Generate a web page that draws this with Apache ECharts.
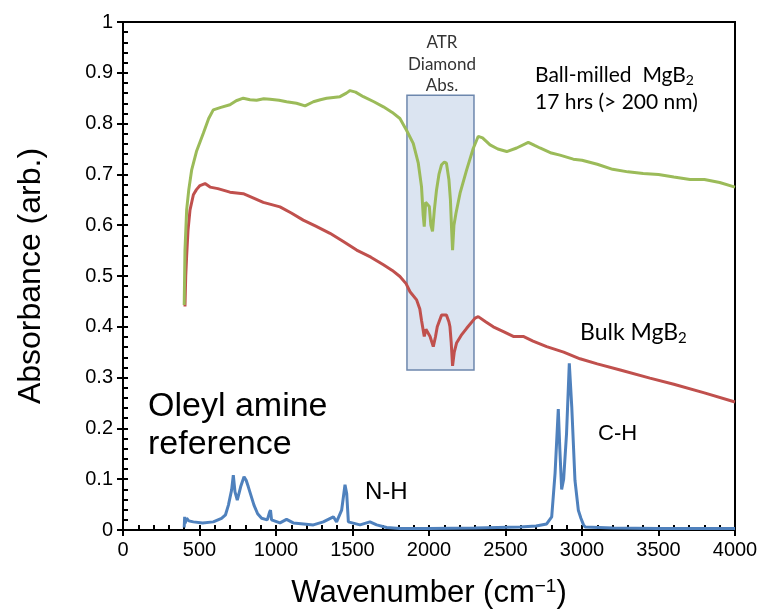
<!DOCTYPE html>
<html>
<head>
<meta charset="utf-8">
<script src="https://cdn.jsdelivr.net/npm/echarts@6/dist/echarts.min.js"></script>
<style>
  html, body { margin: 0; padding: 0; background: #fff; }
  #chart { width: 759px; height: 610px; }
</style>
</head>
<body>
<div id="chart"></div>
<script>
// ball-milled MgB2, 17 hrs
const milledWn = [400, 405, 416, 430, 449, 480, 525, 560, 590, 640, 699, 740, 786, 830, 873, 920, 961, 1020, 1069, 1134, 1190, 1244, 1290, 1331, 1418, 1460, 1484, 1520, 1571, 1640, 1702, 1760, 1810, 1853, 1897, 1930, 1951, 1962, 1969, 1978, 1990, 2002, 2012, 2023, 2035, 2049, 2065, 2082, 2100, 2114, 2130, 2140, 2148, 2154, 2163, 2176, 2203, 2246, 2289, 2322, 2350, 2399, 2450, 2508, 2573, 2649, 2690, 2725, 2800, 2856, 2943, 3000, 3100, 3200, 3300, 3400, 3500, 3600, 3706, 3800, 3900, 4000];
const milledAbs = [0.443, 0.55, 0.63, 0.67, 0.709, 0.745, 0.781, 0.81, 0.827, 0.832, 0.837, 0.845, 0.85, 0.847, 0.846, 0.849, 0.848, 0.846, 0.843, 0.84, 0.835, 0.843, 0.847, 0.85, 0.853, 0.86, 0.865, 0.862, 0.853, 0.843, 0.833, 0.822, 0.81, 0.787, 0.761, 0.722, 0.676, 0.62, 0.597, 0.645, 0.643, 0.637, 0.6, 0.588, 0.63, 0.669, 0.7, 0.719, 0.724, 0.722, 0.69, 0.65, 0.59, 0.551, 0.6, 0.623, 0.663, 0.709, 0.751, 0.775, 0.772, 0.758, 0.75, 0.745, 0.752, 0.763, 0.757, 0.752, 0.742, 0.738, 0.73, 0.728, 0.72, 0.71, 0.705, 0.702, 0.7, 0.695, 0.69, 0.69, 0.684, 0.675];

// bulk MgB2
const bulkWn = [405, 410, 416, 425, 438, 460, 480, 503, 536, 569, 620, 699, 786, 850, 917, 1026, 1100, 1178, 1260, 1353, 1440, 1527, 1620, 1702, 1760, 1810, 1850, 1876, 1919, 1940, 1951, 1969, 1980, 1989, 2007, 2028, 2042, 2054, 2082, 2114, 2130, 2137, 2145, 2154, 2165, 2180, 2210, 2246, 2301, 2322, 2370, 2420, 2490, 2551, 2616, 2680, 2769, 2880, 2987, 3100, 3250, 3444, 3600, 3800, 4000];
const bulkAbs = [0.44, 0.5, 0.54, 0.59, 0.63, 0.66, 0.67, 0.678, 0.682, 0.675, 0.672, 0.665, 0.662, 0.654, 0.645, 0.636, 0.624, 0.61, 0.598, 0.584, 0.568, 0.551, 0.537, 0.522, 0.511, 0.499, 0.485, 0.469, 0.453, 0.435, 0.413, 0.381, 0.395, 0.397, 0.381, 0.361, 0.38, 0.4, 0.423, 0.423, 0.41, 0.4, 0.37, 0.323, 0.35, 0.368, 0.383, 0.397, 0.417, 0.42, 0.41, 0.4, 0.39, 0.381, 0.381, 0.372, 0.361, 0.35, 0.337, 0.327, 0.315, 0.299, 0.287, 0.27, 0.252];

// oleyl amine reference
const oleylWn = [400, 403, 406, 416, 430, 460, 520, 590, 644, 670, 689, 710, 721, 732, 747, 769, 791, 805, 819, 856, 880, 906, 943, 958, 964, 971, 1026, 1069, 1113, 1180, 1244, 1309, 1375, 1396, 1429, 1451, 1462, 1473, 1549, 1614, 1658, 1723, 1810, 2000, 2300, 2595, 2700, 2769, 2802, 2824, 2845, 2855, 2867, 2880, 2899, 2917, 2933, 2954, 2976, 2993, 3000, 3010, 3020, 3200, 3500, 4000];
const oleylAbs = [0.005, 0.026, 0.013, 0.023, 0.018, 0.016, 0.014, 0.016, 0.023, 0.03, 0.049, 0.079, 0.108, 0.075, 0.059, 0.085, 0.105, 0.098, 0.085, 0.049, 0.032, 0.023, 0.02, 0.035, 0.039, 0.02, 0.014, 0.021, 0.014, 0.012, 0.01, 0.016, 0.026, 0.016, 0.039, 0.089, 0.072, 0.016, 0.01, 0.016, 0.01, 0.005, 0.003, 0.003, 0.004, 0.006, 0.008, 0.012, 0.026, 0.112, 0.238, 0.16, 0.08, 0.1, 0.19, 0.328, 0.243, 0.098, 0.039, 0.023, 0.022, 0.01, 0.006, 0.004, 0.003, 0.003];

// ATR diamond absorption window
const atrBox = { x0: 1856, x1: 2294, y0: 0.315, y1: 0.856 };

const pairs = (xs, ys) => xs.map((x, i) => [x, ys[i]]);

const chart = echarts.init(document.getElementById('chart'));

const tickFont = { color: '#000', fontSize: 20, fontFamily: 'Liberation Sans' };
const calibri = 'Lato';

chart.setOption({
  animation: false,
  grid: {
    left: 123, right: 24, top: 22, bottom: 80, outerBoundsMode: 'none',
    show: true, borderColor: '#000', borderWidth: 2
  },
  xAxis: [
    {
      type: 'value', min: 0, max: 4000, interval: 500,
      axisLine: { onZero: false, lineStyle: { color: '#000', width: 2 } },
      axisTick: { inside: false, length: 6, lineStyle: { color: '#000', width: 2 } },
      axisLabel: Object.assign({ margin: 10, formatter: v => String(v) }, tickFont),
      splitLine: { show: false },
      name: 'Wavenumber (cm{sup|\u22121})',
      nameLocation: 'middle',
      nameGap: 47,
      nameTextStyle: {
        color: '#000', fontSize: 31, fontFamily: 'Liberation Sans',
        rich: { sup: { fontSize: 19, fontFamily: 'Liberation Sans', color: '#000', padding: [0, 0, 14, 0] } }
      }
    },
    {
      type: 'value', min: 0, max: 4000, interval: 100, position: 'bottom',
      axisLine: { show: false },
      axisTick: { inside: true, length: 5, lineStyle: { color: '#000', width: 2 } },
      axisLabel: { show: false },
      splitLine: { show: false }
    }
  ],
  yAxis: [
    {
      type: 'value', min: 0, max: 1, interval: 0.1,
      axisLine: { show: true, onZero: false, lineStyle: { color: '#000', width: 2 } },
      axisTick: { show: true, inside: false, length: 6, lineStyle: { color: '#000', width: 2 } },
      axisLabel: Object.assign({ margin: 10 }, tickFont),
      splitLine: { show: false },
      name: 'Absorbance (arb.)',
      nameLocation: 'middle',
      nameGap: 76,
      nameTextStyle: { color: '#000', fontSize: 32, fontFamily: 'Liberation Sans' }
    },
    {
      type: 'value', min: 0, max: 1, interval: 0.02, position: 'left',
      axisLine: { show: false },
      axisTick: { show: true, inside: true, length: 5, lineStyle: { color: '#000', width: 2 } },
      axisLabel: { show: false },
      splitLine: { show: false }
    }
  ],
  series: [
    {
      type: 'line', data: [], z: 1, silent: true,
      markArea: {
        silent: true,
        itemStyle: { color: '#dbe4f1', borderColor: '#6d87ad', borderWidth: 1.5 },
        data: [[{ coord: [atrBox.x0, atrBox.y1] }, { coord: [atrBox.x1, atrBox.y0] }]]
      }
    },
    {
      name: 'Oleyl amine', type: 'line', z: 3, showSymbol: false,
      data: pairs(oleylWn, oleylAbs),
      lineStyle: { color: '#4f81bd', width: 3 }
    },
    {
      name: 'Bulk MgB2', type: 'line', z: 3, showSymbol: false,
      data: pairs(bulkWn, bulkAbs),
      lineStyle: { color: '#c0504d', width: 3 }
    },
    {
      name: 'Ball-milled MgB2', type: 'line', z: 3, showSymbol: false,
      data: pairs(milledWn, milledAbs),
      lineStyle: { color: '#9bbb59', width: 3 }
    }
  ],
  graphic: [
    {
      type: 'text', left: 148, top: 388,
      style: { text: 'Oleyl amine\nreference', fill: '#000', font: '34px "Liberation Sans"', lineHeight: 38 }
    },
    { type: 'text', left: 365, top: 480, style: { text: 'N-H', fill: '#000', font: '24px "Liberation Sans"' } },
    { type: 'text', left: 598, top: 423, style: { text: 'C-H', fill: '#000', font: '22px "Liberation Sans"' } },
    {
      type: 'text', left: 580, top: 321,
      style: {
        text: 'Bulk MgB{sub|2}', fill: '#000', font: '23px ' + calibri,
        rich: { sub: { fontSize: 15, fontFamily: calibri, fill: '#000', padding: [11, 0, 0, 0] } }
      }
    },
    {
      type: 'text', left: 535, top: 62,
      style: {
        text: 'Ball-milled  MgB{sub|2}\n17 hrs (> 200 nm)', fill: '#000', font: '21px ' + calibri, lineHeight: 27,
        rich: { sub: { fontSize: 14, fontFamily: calibri, fill: '#000', padding: [10, 0, 0, 0] } }
      }
    },
    {
      type: 'text', x: 442, y: 32,
      style: {
        text: 'ATR\nDiamond\nAbs.', fill: '#333', font: '17px ' + calibri, lineHeight: 21.5, align: 'center'
      }
    }
  ]
});
</script>
</body>
</html>
